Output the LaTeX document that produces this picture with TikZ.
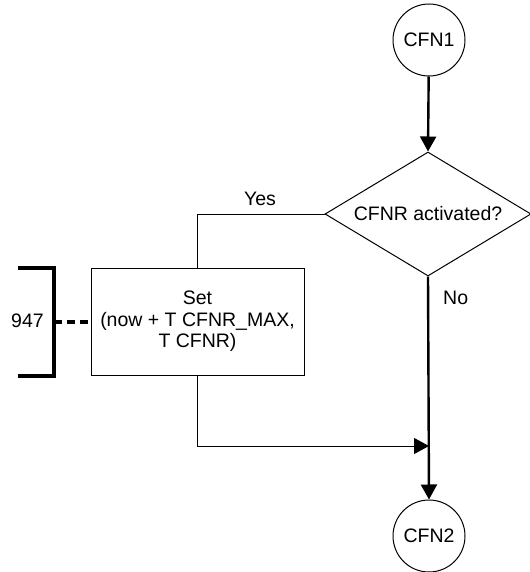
\documentclass[tikz,border=0pt]{standalone}
\usepackage{fontspec}
\setmainfont{Liberation Sans}
\usetikzlibrary{shapes.geometric,arrows.meta}
\begin{document}
\begin{tikzpicture}[x=1bp,y=-1bp,
  every node/.style={font=\fontsize{19.5bp}{21.5bp}\selectfont},
  thin line/.style={line width=1bp},
  main line/.style={line width=2.4bp},
  tip/.style={-{Triangle[length=15bp,width=16bp]}},
  term/.style={draw,circle,thin line,minimum size=72bp,inner sep=0pt},
  decision/.style={draw,diamond,thin line,minimum width=206bp,minimum height=124bp,inner sep=0pt,aspect=1.66},
  task/.style={draw,rectangle,thin line,minimum width=213bp,minimum height=107bp,align=center,inner sep=0pt},
  bracketline/.style={line width=3.2bp},
  linkline/.style={line width=3.2bp,dash pattern=on 8bp off 5bp}
]
\useasboundingbox (0,0) rectangle (530,572);
\node[term] (c1) at (429,40) {CFN1};
\node[decision] (dec) at (428,214) {CFNR activated?};
\node[task] (box) at (197.5,321.5) {Set\\(now + T CFNR\_MAX,\\T CFNR)};
\node[term] (c2) at (429,536) {CFN2};
\coordinate (join) at (429,446);
\node (yes) at (260,199) {Yes};
\node[anchor=west,inner sep=0pt] (no) at (443,298) {No};
\node[inner sep=0pt] (ref) at (27.5,321) {947};
\coordinate (bt) at (18,268);
\coordinate (bb) at (18,376);
\coordinate (bx) at (54,322);
\draw[bracketline] (bt) -- (54,268) -- (54,376) -- (bb);
\draw[linkline] (bx) -- (box.west |- bx);
\draw[main line,tip] (c1) -- (dec.north);
\draw[thin line] (dec.west) -| (box.north);
\draw[main line,tip] (dec.south) -- (c2.north);
\draw[thin line,tip] (box.south) |- (join);
\end{tikzpicture}
\end{document}
